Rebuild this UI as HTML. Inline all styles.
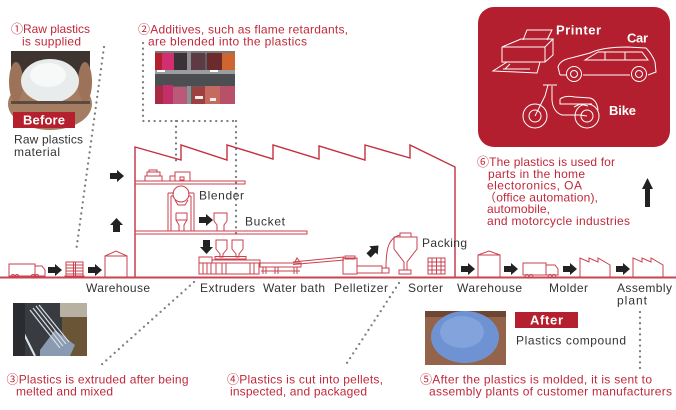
<!DOCTYPE html>
<html><head><meta charset="utf-8"><style>
html,body{margin:0;padding:0;background:#fff;}
svg{display:block}
text{font-family:"Liberation Sans","Noto Sans CJK JP",sans-serif;font-size:12px;}
.r{fill:#c0283a}
.k{fill:#333}
.w{fill:#fff;font-weight:bold;font-size:13px}
.ln{fill:none;stroke:#c9404e;stroke-width:1}
.wl{fill:none;stroke:#fff;stroke-width:1}
.dot{fill:none;stroke:#7d7d7d;stroke-width:2.3;stroke-linecap:round;stroke-dasharray:0 5.6}
.ar{fill:#222}
</style></head><body>
<svg width="676" height="410" viewBox="0 0 676 410" xmlns="http://www.w3.org/2000/svg">
<defs>
<path id="ra" d="M0,3 H7 V0 L14,6 L7,12 V9 H0 Z"/>
</defs>

<!-- dotted connectors -->
<path class="dot" d="M104,47 L76,252"/>
<path class="dot" d="M143,43 V121 H236"/>
<path class="dot" d="M176,121 V163"/>
<path class="dot" d="M236,121 V233"/>
<path class="dot" d="M194,282 L100,366"/>
<path class="dot" d="M399,283 L345,366"/>
<path class="dot" d="M640,312 V370"/>

<!-- top labels -->
<text x="11" y="33" class="r" textLength="79">①Raw plastics</text>
<text x="22" y="45.5" class="r" textLength="59">is supplied</text>
<text x="138" y="33.5" class="r" textLength="210">②Additives, such as flame retardants,</text>
<text x="148" y="45.5" class="r" textLength="159">are blended into the plastics</text>

<!-- photo 1: raw plastics -->
<g>
<rect x="11" y="51" width="79" height="53" fill="#3e3530"/>
<ellipse cx="50" cy="104" rx="42" ry="26" fill="#a47d62"/>
<ellipse cx="16" cy="82" rx="7" ry="20" fill="#9c7358"/>
<ellipse cx="85" cy="82" rx="7" ry="20" fill="#9c7358"/>
<ellipse cx="50" cy="81" rx="29" ry="22" fill="#e9ecec"/>
<ellipse cx="48" cy="75" rx="18" ry="12" fill="#f7f8f8"/>
<rect x="11" y="101" width="79" height="3" fill="#5a4a40"/>
</g>

<!-- photo 2: additives -->
<g>
<rect x="155" y="51" width="80" height="53" fill="#5e5f62"/>
<rect x="155" y="51" width="80" height="3" fill="#7a7a7c"/>
<rect x="155" y="53" width="7" height="17" fill="#b3202e"/>
<rect x="162" y="53" width="12" height="17" fill="#d22f72"/>
<rect x="174" y="53" width="13" height="17" fill="#3b3139"/>
<rect x="191" y="53" width="14" height="17" fill="#5e3a44"/>
<rect x="207" y="53" width="15" height="17" fill="#6b2a2c"/>
<rect x="222" y="53" width="13" height="17" fill="#d0662f"/>
<rect x="187" y="51" width="4" height="53" fill="#8e8f91"/>
<rect x="155" y="70" width="80" height="4" fill="#9c9d9f"/>
<rect x="157" y="70" width="8" height="2" fill="#fff"/>
<rect x="210" y="70" width="8" height="2" fill="#fff"/>
<rect x="155" y="74" width="80" height="12" fill="#4d4e51"/>
<rect x="155" y="86" width="8" height="18" fill="#a82a45"/>
<rect x="163" y="85" width="10" height="19" fill="#c2306a"/>
<rect x="173" y="87" width="14" height="17" fill="#b95a78"/>
<rect x="192" y="87" width="13" height="17" fill="#9e4040"/>
<rect x="205" y="86" width="15" height="18" fill="#c46a60"/>
<rect x="220" y="86" width="15" height="18" fill="#b8506a"/>
<rect x="195" y="96" width="8" height="3" fill="#eee"/>
<rect x="210" y="98" width="6" height="3" fill="#eee"/>
</g>

<!-- Before -->
<rect x="13" y="112" width="62" height="16" fill="#b5202e"/>
<text x="23" y="124.5" class="w" textLength="42">Before</text>
<text x="14" y="143.6" class="k" textLength="69">Raw plastics</text>
<text x="14" y="156" class="k" textLength="46">material</text>

<!-- factory -->
<path d="M135,277 V147 L181,160 V145 L227,160 V145 L273,159 V145 L319,159 V146 L365,160 V145 L410,158 V145 L455,167 V277" fill="none" stroke="#c3303e" stroke-width="1.4"/>
<rect x="135" y="181" width="110" height="3" class="ln"/>
<rect x="135" y="231" width="172" height="3" class="ln"/>
<path d="M0,277.5 H676" stroke="#c94452" stroke-width="2"/>

<!-- upper shelf items -->
<g class="ln">
<rect x="145" y="176" width="17" height="5"/>
<rect x="147" y="172" width="13" height="4"/>
<rect x="149" y="170" width="8" height="2"/>
<rect x="175" y="172" width="15" height="9"/>
<rect x="170" y="176" width="5" height="5"/>
<rect x="180" y="177" width="4" height="3"/>
</g>

<!-- blender -->
<g class="ln">
<circle cx="181" cy="194" r="8"/>
<path d="M175,200 L178,205 H185 L188,200"/>
<path d="M168,193 V231 M171,196 V231 M191,196 V231 M194,193 V231 M168,193 H174 M188,193 H194 M171,196 H174 M188,196 H191"/>
<path d="M176,213 H187 V220 L184,225 V231 M176,213 V220 L179,225 V231 M176,220 H187"/>
<path d="M214,213 H227 V221 L224,225 V231 H217 V225 L214,221 Z"/>
</g>
<text x="199" y="199.3" class="k" textLength="45">Blender</text>
<text x="245" y="225.3" class="k" textLength="40">Bucket</text>

<!-- extruder line -->
<g class="ln">
<path d="M216,240 H227 V249 L223,254 V257 H220 V254 L216,249 Z"/>
<path d="M232,240 H243 V249 L239,254 V257 H236 V254 L232,249 Z"/>
<rect x="215" y="256.5" width="31" height="2.5"/>
<rect x="199" y="257" width="13" height="6"/>
<rect x="212" y="260" width="48" height="3"/>
<rect x="199" y="263" width="60" height="11"/>
<path d="M203,263 V274 M207,263 V274 M211,263 V274 M216,263 V274 M222,263 V274 M226,263 V274 M250,263 V274 M254,263 V274"/>
<rect x="260" y="263" width="41" height="4"/>
<path d="M263,267 V274 M266,267 V274 M275,267 V274 M278,267 V274 M294,267 V274 M297,267 V274 M261,271 H300"/>
<path d="M293,262 L344,257 M293,264.5 L344,260 M295,262 L297,258 L300,262"/>
<rect x="343" y="258" width="14" height="16"/>
<rect x="345" y="256" width="10" height="3"/>
<rect x="357" y="266" width="25" height="7"/>
<rect x="382" y="268" width="7" height="5"/>
<path d="M386,268 C386,250 388,238 400,235"/>
<rect x="400" y="233" width="11" height="4"/>
<path d="M394,237 H417 V249 L407,262 V270 H404 V262 L394,249 Z"/>
<rect x="399" y="270" width="12" height="4"/>
<rect x="428" y="258" width="17" height="16"/>
<path d="M428,262 H445 M428,266 H445 M428,270 H445 M432,258 V274 M436.5,258 V274 M441,258 V274"/>
</g>
<text x="422" y="247" class="k" textLength="45">Packing</text>

<!-- left ground items -->
<g class="ln">
<rect x="9" y="264" width="26" height="12"/>
<path d="M35,266 H42 L45,270 V276 H35"/>
<circle cx="13" cy="276.3" r="1.8"/><circle cx="17" cy="276.3" r="1.8"/>
<circle cx="33" cy="276.3" r="1.8"/><circle cx="37" cy="276.3" r="1.8"/>
<rect x="66" y="262" width="17" height="14"/>
<path d="M66,265 H83 M66,268 H83 M66,271 H83 M66,274 H83 M73.5,262 V276 M75.5,262 V276"/>
<rect x="65" y="276" width="19" height="1.5"/>
<rect x="105" y="256" width="22" height="21"/>
<path d="M105,256 L116,251 L127,256"/>
</g>

<!-- right ground items -->
<g class="ln">
<rect x="478" y="255" width="22" height="22"/>
<path d="M478,255 L489,251 L500,255"/>
<rect x="523" y="263" width="23" height="12"/>
<path d="M546,265 H555 L558,269 V275 H546"/>
<circle cx="527" cy="276.3" r="1.8"/><circle cx="531" cy="276.3" r="1.8"/>
<circle cx="550" cy="276.3" r="1.8"/><circle cx="554" cy="276.3" r="1.8"/>
<path d="M580,277 V258 L589,262 V258 L598,262 V258 L610,265 V277"/>
<path d="M633,277 V258 L642,262 V258 L651,262 V258 L663,265 V277"/>
</g>

<!-- arrows -->
<use href="#ra" x="48" y="264" class="ar"/>
<use href="#ra" x="88" y="264" class="ar"/>
<use href="#ra" x="110" y="170" class="ar"/>
<path class="ar" d="M113,232 V225 H110 L116.5,218 L123,225 H120 V232 Z"/>
<use href="#ra" x="199" y="214" class="ar"/>
<path class="ar" d="M203,240 H210 V247 H213 L206.5,254 L200,247 H203 Z"/>
<g transform="rotate(-45 373.5 250.5)"><use href="#ra" x="366.5" y="244.5" class="ar"/></g>
<use href="#ra" x="461" y="263" class="ar"/>
<use href="#ra" x="504" y="263" class="ar"/>
<use href="#ra" x="563" y="263" class="ar"/>
<use href="#ra" x="616" y="263" class="ar"/>
<path class="ar" d="M645,207 V189 H642 L647.5,178 L653,189 H650 V207 Z"/>

<!-- ground labels -->
<text x="86" y="292" class="k" textLength="64">Warehouse</text>
<text x="200" y="292" class="k" textLength="55">Extruders</text>
<text x="263" y="292" class="k" textLength="62">Water bath</text>
<text x="334" y="292" class="k" textLength="54">Pelletizer</text>
<text x="408" y="292" class="k" textLength="35">Sorter</text>
<text x="457" y="292" class="k" textLength="65">Warehouse</text>
<text x="549" y="292" class="k" textLength="39">Molder</text>
<text x="617" y="292" class="k" textLength="55">Assembly</text>
<text x="617" y="304.5" class="k" textLength="30">plant</text>

<!-- right panel -->
<rect x="478" y="7" width="192" height="140" rx="16" fill="#b31f2e"/>
<g class="wl">
<path d="M523,40 L527,30 H552 L547,40"/>
<path d="M502,47 L521,39 H553 L545,47 Z"/>
<path d="M502,47 V62 H545 V47 M545,62 L553,55 V39"/>
<path d="M507,62 L493,71 L537,73 L540,62"/>
<path d="M503,69 H530 M510,64 L505,69"/>
<path d="M560,75 L558,67 Q560,60 571,58 L590,53 Q602,47 628,47 L646,48 Q652,54 655,62 L656,72 L648,75 M630,75 H583 M566,75 H560"/>
<path d="M585,60 L598,52 H642 L648,60 Z M605,52 V60 M625,52 V60"/>
<circle cx="574" cy="74" r="7.5"/><circle cx="574" cy="74" r="3.5"/>
<circle cx="639" cy="74" r="7.5"/><circle cx="639" cy="74" r="3.5"/>
<circle cx="535" cy="116" r="12"/><circle cx="535" cy="116" r="6"/>
<circle cx="587" cy="116" r="12"/><circle cx="587" cy="116" r="6"/>
<path d="M543,85 H557 M548,85 L545,96 L535,116 M552,86 L552,100 Q553,112 562,115 H580 L587,116"/>
<path d="M560,99 Q565,95 575,97 L590,98 Q597,100 598,110 M560,99 L560,104 H592"/>
<path d="M574,107 L580,104 L588,106"/>
</g>
<text x="556" y="34.5" class="w" textLength="45">Printer</text>
<text x="627" y="42.5" class="w" textLength="21">Car</text>
<text x="609" y="115" class="w" textLength="27">Bike</text>

<!-- step 6 text -->
<text x="477" y="166" class="r" textLength="138">⑥The plastics is used for</text>
<text x="488" y="177.8" class="r" textLength="97">parts in the home</text>
<text x="487" y="189.6" class="r" textLength="95">electoronics, OA</text>
<text x="484" y="201.4" class="r" textLength="114">（office automation),</text>
<text x="487" y="213.2" class="r" textLength="63">automobile,</text>
<text x="487" y="225" class="r" textLength="143">and motorcycle industries</text>

<!-- photo 3: extruded -->
<g>
<rect x="13" y="303" width="74" height="53" fill="#383b40"/>
<rect x="60" y="303" width="27" height="14" fill="#b8b0a0"/>
<rect x="62" y="317" width="25" height="39" fill="#6a5636"/>
<path d="M40,350 L55,330 L75,345 L70,356 H40 Z" fill="#8a9ab0"/>
<path d="M30,310 L60,348 M33,308 L63,346 M36,306 L66,344 M39,305 L69,342" stroke="#d8dde4" stroke-width="1.2"/>
<path d="M22,330 L35,356" stroke="#dfe4ea" stroke-width="2"/>
<rect x="13" y="303" width="12" height="53" fill="#2a2c30"/>
</g>

<!-- photo 4: blue pellets -->
<g>
<rect x="425" y="311" width="81" height="54" fill="#93644a"/>
<rect x="425" y="311" width="81" height="6" fill="#6e4634"/>
<ellipse cx="465" cy="337" rx="34" ry="26" fill="#6f93d2"/>
<ellipse cx="462" cy="332" rx="22" ry="16" fill="#82a3dc"/>
</g>

<!-- After -->
<rect x="515" y="312" width="63" height="16" fill="#b5202e"/>
<text x="530" y="324.5" class="w" textLength="33">After</text>
<text x="516" y="344.3" class="k" textLength="110">Plastics compound</text>

<!-- bottom labels -->
<text x="6.5" y="383.5" class="r" textLength="182">③Plastics is extruded after being</text>
<text x="16" y="395.3" class="r" textLength="97">melted and mixed</text>
<text x="227" y="383.5" class="r" textLength="156">④Plastics is cut into pellets,</text>
<text x="230" y="395.3" class="r" textLength="137">inspected, and packaged</text>
<text x="420" y="383.5" class="r" textLength="232">⑤After the plastics is molded, it is sent to</text>
<text x="429" y="395.3" class="r" textLength="243">assembly plants of customer manufacturers</text>
</svg>
</body></html>
